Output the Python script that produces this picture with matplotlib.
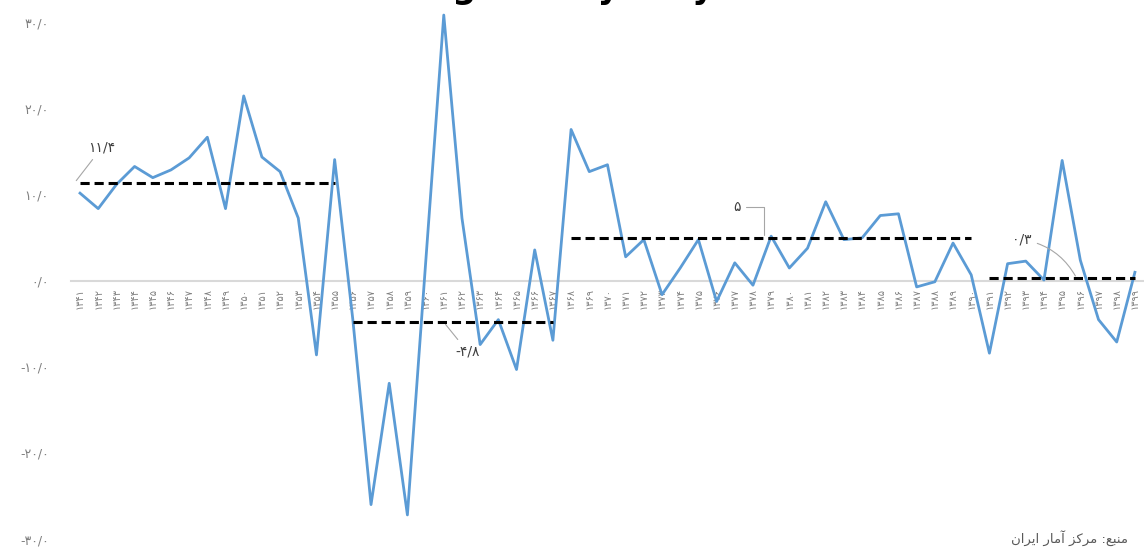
import matplotlib
matplotlib.use('Agg')
import numpy as np
import matplotlib.pyplot as plt

# سال ها ۱۳۴۱ تا ۱۳۹۹
years = list(range(1341, 1400))
growth = [10.2, 8.4, 11.2, 13.3, 12.0, 12.9, 14.3, 16.7, 8.4, 21.5,
          14.4, 12.7, 7.3, -8.6, 14.1, -4.5, -26.0, -11.9, -27.2, 2.0,
          30.9, 7.3, -7.4, -4.5, -10.3, 3.6, -6.9, 17.6, 12.7, 13.5,
          2.8, 4.8, -1.6, 1.5, 4.8, -2.4, 2.1, -0.5, 5.2, 1.5,
          3.8, 9.2, 4.8, 5.0, 7.6, 7.8, -0.7, -0.1, 4.4, 0.7,
          -8.4, 2.0, 2.3, 0.1, 14.0, 2.4, -4.5, -7.1, 1.0]

# میانگین دوره ها
period_start = [1341, 1356, 1368, 1391]
period_end = [1355, 1367, 1390, 1399]
period_avg = [11.4, -4.8, 5.0, 0.3]
period_text = ['۱۱/۴', '-۴/۸', '۵', '۰/۳']

yticks = [-30, -20, -10, 0, 10, 20, 30]

fa_digits = str.maketrans('0123456789.', '۰۱۲۳۴۵۶۷۸۹/')


def fa(s):
    return str(s).translate(fa_digits)


plt.rcParams['font.family'] = ['DejaVu Sans']

fig = plt.figure(figsize=(11.44, 5.48), dpi=100)
ax = fig.add_axes([0.062, 0.0164, 0.938, 0.942])

# محور افقی روی صفر (قبل از تنظیم برچسب ها)
for side in ['top', 'right', 'left']:
    ax.spines[side].set_visible(False)
ax.spines['bottom'].set_position(('data', 0))
ax.spines['bottom'].set_color('#d9d9d9')
ax.spines['bottom'].set_linewidth(1.5)

x = np.arange(len(years))
ax.plot(x, growth, color='#5b9bd5', lw=2, clip_on=False, zorder=3)

for s, e, v in zip(period_start, period_end, period_avg):
    ax.plot([years.index(s), years.index(e)], [v, v], color='black',
            lw=2.2, ls=(0, (3, 1.6)), zorder=4)

# برچسب ها
ax.annotate(period_text[0], xy=(-0.3, 11.4), xytext=(1.2, 15.5),
            fontsize=10, color='#404040', ha='center', va='center',
            arrowprops=dict(arrowstyle='-', color='#a6a6a6', lw=0.8))
ax.annotate(period_text[1], xy=(20.0, -4.8), xytext=(21.3, -8.2),
            fontsize=10, color='#404040', ha='center', va='center',
            arrowprops=dict(arrowstyle='-', color='#a6a6a6', lw=0.8))
ax.annotate(period_text[2], xy=(37.6, 5.0), xytext=(36.1, 8.6),
            fontsize=10, color='#404040', ha='center', va='center',
            arrowprops=dict(arrowstyle='-', color='#a6a6a6', lw=0.8,
                            connectionstyle='angle,angleA=0,angleB=90,rad=0'))
ax.annotate(period_text[3], xy=(54.8, 0.3), xytext=(51.8, 4.8),
            fontsize=10, color='#404040', ha='center', va='center',
            arrowprops=dict(arrowstyle='-', color='#a6a6a6', lw=0.8,
                            connectionstyle='arc3,rad=-0.25'))

ax.set_xlim(-0.5, len(years) - 0.5)
ax.set_ylim(-30, 30)
ax.set_xticks(x)
ax.set_xticklabels([fa(y) for y in years], rotation=90, fontsize=7,
                   color='#7f7f7f')
ax.set_yticks(yticks)
ax.set_yticklabels([fa('%.1f' % v) if v >= 0 else '-' + fa('%.1f' % -v)
                    for v in yticks], fontsize=9, color='#7f7f7f')
ax.tick_params(axis='both', length=0)
ax.tick_params(axis='y', pad=16)
ax.tick_params(axis='x', pad=5)

# عنوان (بیشتر آن بیرون از تصویر است)
fig.text(0.47, 1.004, 'GDP growth yearly', fontsize=24,
         fontweight='bold', ha='center', va='baseline')

# منبع: مرکز آمار ایران (شکل داده شده)
src = '\ufee5\ufe8d\ufeae\ufbfe\ufe8d \ufead\ufe8e\ufee3\ufe81 \ufeb0\ufb90\ufeae\ufee3 :\ufeca\ufe92\ufee8\ufee3'
fig.text(0.884, 0.004, src, fontsize=9.5, color='#595959', ha='left',
         va='bottom', family=['DejaVu Sans', 'Noto Sans'])

plt.savefig('out.png', dpi=100)
